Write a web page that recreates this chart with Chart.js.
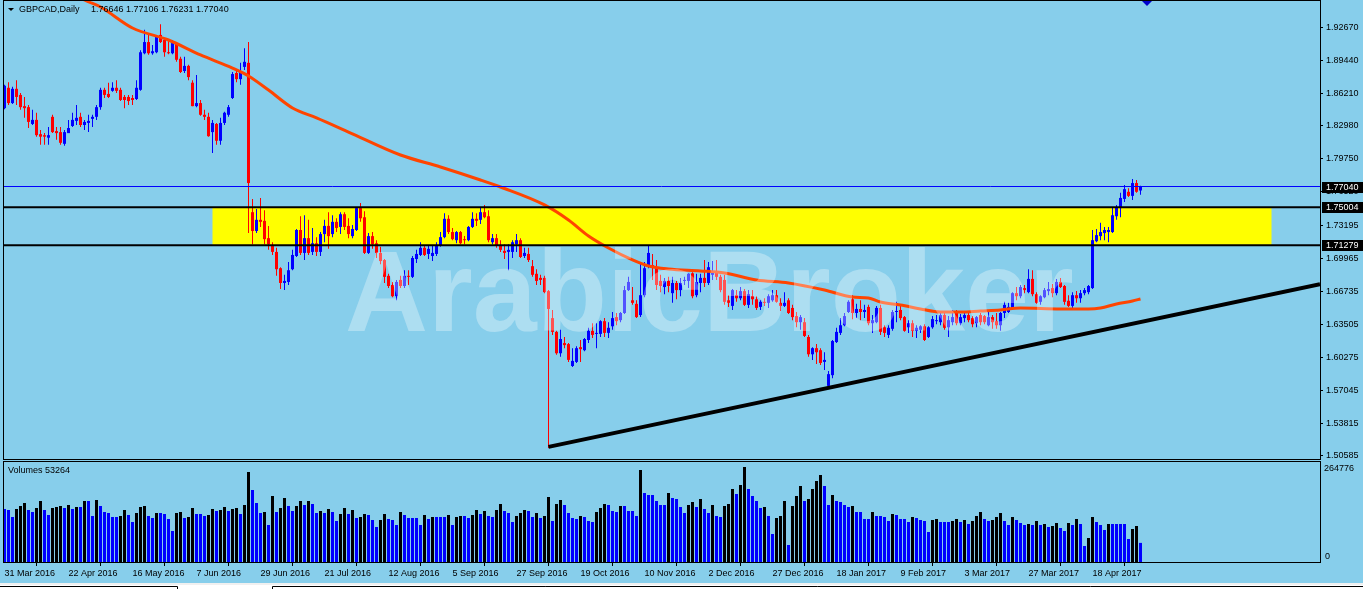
<!DOCTYPE html>
<html>
<head>
  <title>GBPCAD Daily</title>
  <script src="https://cdn.jsdelivr.net/npm/chart.js"></script>
  <style>
    body { margin: 0; background: #87CEEB; overflow: hidden; }
    #wrap { position: relative; width: 1363px; height: 589px; }
    #priceChart { position: absolute; left: 0; top: 0; }
    #volChart { position: absolute; left: 0; top: 460px; }
  </style>
</head>
<body>
<div id="wrap">
  <canvas id="priceChart" width="1363" height="460" style="width:1363px;height:460px"></canvas>
  <canvas id="volChart" width="1363" height="129" style="width:1363px;height:129px"></canvas>
</div>
<script>
// daily candles, GBPCAD, 31 Mar 2016 .. 28 Apr 2017
const open = [
1.8473,1.8673,1.8523,1.8663,1.8603,1.8493,1.8483,1.8318,1.8358,1.8218,
1.8208,1.8183,1.8388,1.8248,1.8238,1.8123,1.8228,1.8298,1.8348,1.8388,
1.8308,1.8328,1.8368,1.8388,1.8483,1.8653,1.8613,1.8643,1.8673,1.8653,
1.8583,1.8583,1.8573,1.8563,1.8653,1.9012,1.9122,1.9012,1.9022,1.9192,
1.9142,1.9022,1.9012,1.9112,1.8958,1.8838,1.8888,1.8723,1.8493,1.8523,
1.8408,1.8388,1.8238,1.8318,1.8153,1.8328,1.8408,1.8573,1.8818,1.8758,
1.8878,1.8918,1.7452,1.7267,1.7377,1.7367,1.7197,1.7122,1.7062,1.6902,
1.6757,1.6767,1.6892,1.7022,1.7277,1.7052,1.7197,1.7062,1.7147,1.7062,
1.7237,1.7317,1.7237,1.7357,1.7307,1.7432,1.7317,1.7217,1.7277,1.7492,
1.7402,1.7052,1.7217,1.7147,1.7052,1.6982,1.6827,1.6737,1.6627,1.6787,
1.6727,1.6827,1.6817,1.6992,1.7032,1.7102,1.7042,1.7022,1.7042,1.7127,
1.7207,1.7387,1.7257,1.7177,1.7257,1.7187,1.7177,1.7307,1.7387,1.7377,
1.7452,1.7412,1.7157,1.7197,1.7127,1.7072,1.7062,1.7062,1.7137,1.7177,
1.7022,1.7042,1.6922,1.6847,1.6807,1.6807,1.6677,1.6412,1.6277,1.6067,
1.6167,1.6157,1.5942,1.5982,1.6127,1.6097,1.6197,1.6287,1.6257,1.6257,
1.6382,1.6267,1.6332,1.6422,1.6392,1.6462,1.6687,1.6587,1.6552,1.6442,
1.6637,1.6932,1.6932,1.6912,1.6777,1.6717,1.6777,1.6657,1.6757,1.6687,
1.6777,1.6777,1.6852,1.6637,1.6757,1.6807,1.6757,1.6837,1.6862,1.6817,
1.6787,1.6587,1.6532,1.6637,1.6607,1.6677,1.6542,1.6627,1.6597,1.6522,
1.6572,1.6562,1.6587,1.6637,1.6562,1.6532,1.6587,1.6512,1.6432,1.6372,
1.6372,1.6227,1.6057,1.6117,1.6097,1.5982,1.5747,1.5852,1.6177,1.6267,
1.6342,1.6472,1.6597,1.6462,1.6502,1.6472,1.6522,1.6362,1.6372,1.6512,
1.6322,1.6247,1.6307,1.6472,1.6492,1.6422,1.6322,1.6362,1.6287,1.6297,
1.6332,1.6227,1.6322,1.6382,1.6372,1.6442,1.6322,1.6372,1.6472,1.6362,
1.6412,1.6442,1.6412,1.6362,1.6442,1.6432,1.6342,1.6422,1.6382,1.6342,
1.6462,1.6472,1.6512,1.6657,1.6627,1.6707,1.6667,1.6797,1.6647,1.6572,
1.6617,1.6677,1.6707,1.6657,1.6767,1.6727,1.6582,1.6532,1.6637,1.6607,
1.6657,1.6667,1.6707,1.7167,1.7217,1.7247,1.7257,1.7257,1.7412,1.7492,
1.7582,1.7652,1.7612,1.7738,1.76646
];
const high = [
1.8703,1.8728,1.8683,1.8748,1.8623,1.8583,1.8503,1.8458,1.8428,1.8258,
1.8228,1.8288,1.8408,1.8288,1.8288,1.8258,1.8358,1.8428,1.8503,1.8428,
1.8358,1.8408,1.8408,1.8503,1.8673,1.8673,1.8723,1.8728,1.8748,1.8673,
1.8603,1.8603,1.8603,1.8748,1.9042,1.9242,1.9192,1.9092,1.9192,1.9297,
1.9162,1.9142,1.9142,1.9122,1.8978,1.8978,1.8898,1.8748,1.8798,1.8553,
1.8458,1.8428,1.8358,1.8328,1.8378,1.8438,1.8503,1.8828,1.8848,1.8918,
1.9062,1.9122,1.7582,1.7482,1.7592,1.7472,1.7317,1.7157,1.7102,1.6912,
1.6837,1.6962,1.7082,1.7287,1.7412,1.7422,1.7377,1.7297,1.7207,1.7257,
1.7377,1.7452,1.7422,1.7392,1.7452,1.7452,1.7392,1.7327,1.7502,1.7542,
1.7462,1.7247,1.7257,1.7177,1.7112,1.6992,1.6847,1.6767,1.6787,1.6827,
1.6882,1.6882,1.7022,1.7082,1.7157,1.7127,1.7127,1.7127,1.7157,1.7257,
1.7442,1.7422,1.7297,1.7267,1.7267,1.7217,1.7317,1.7452,1.7442,1.7492,
1.7522,1.7472,1.7237,1.7237,1.7177,1.7137,1.7137,1.7177,1.7237,1.7197,
1.7102,1.7102,1.6982,1.6892,1.6837,1.6827,1.6687,1.6492,1.6287,1.6297,
1.6227,1.6167,1.6117,1.6137,1.6197,1.6217,1.6317,1.6362,1.6362,1.6392,
1.6412,1.6372,1.6472,1.6462,1.6472,1.6727,1.6817,1.6717,1.6587,1.6962,
1.6962,1.7122,1.7042,1.6982,1.6837,1.6807,1.6817,1.6817,1.6777,1.6807,
1.6817,1.6852,1.6862,1.6847,1.6847,1.6982,1.6962,1.6972,1.6982,1.6837,
1.6837,1.6637,1.6697,1.6687,1.6717,1.6697,1.6687,1.6687,1.6627,1.6587,
1.6607,1.6647,1.6687,1.6687,1.6607,1.6667,1.6607,1.6542,1.6472,1.6442,
1.6412,1.6247,1.6127,1.6157,1.6117,1.6077,1.5892,1.6197,1.6317,1.6412,
1.6462,1.6587,1.6637,1.6552,1.6587,1.6542,1.6542,1.6442,1.6532,1.6542,
1.6342,1.6342,1.6492,1.6572,1.6542,1.6432,1.6392,1.6392,1.6342,1.6342,
1.6352,1.6332,1.6432,1.6442,1.6472,1.6462,1.6432,1.6492,1.6492,1.6452,
1.6472,1.6462,1.6432,1.6432,1.6462,1.6442,1.6472,1.6442,1.6462,1.6472,
1.6572,1.6562,1.6667,1.6717,1.6737,1.6737,1.6892,1.6882,1.6667,1.6637,
1.6707,1.6767,1.6747,1.6797,1.6807,1.6737,1.6637,1.6667,1.6677,1.6687,
1.6707,1.6737,1.7277,1.7287,1.7347,1.7307,1.7307,1.7502,1.7522,1.7642,
1.7718,1.7688,1.7778,1.7768,1.77106
];
const low = [
1.8463,1.8503,1.8513,1.8503,1.8458,1.8378,1.8278,1.8308,1.8193,1.8113,
1.8113,1.8113,1.8228,1.8163,1.8113,1.8103,1.8228,1.8288,1.8308,1.8288,
1.8258,1.8238,1.8288,1.8358,1.8458,1.8573,1.8573,1.8633,1.8623,1.8543,
1.8473,1.8503,1.8503,1.8553,1.8643,1.9002,1.8998,1.8998,1.9012,1.9112,
1.8978,1.9002,1.9002,1.8928,1.8818,1.8818,1.8748,1.8493,1.8483,1.8398,
1.8358,1.8193,1.8033,1.8113,1.8113,1.8308,1.8388,1.8563,1.8728,1.8703,
1.8848,1.7247,1.7137,1.7247,1.7307,1.7137,1.7082,1.7032,1.6827,1.6697,
1.6687,1.6737,1.6882,1.7012,1.7032,1.6982,1.7032,1.7032,1.7022,1.7022,
1.7157,1.7092,1.7207,1.7257,1.7237,1.7277,1.7197,1.7197,1.7267,1.7357,
1.7042,1.7042,1.7092,1.7002,1.6942,1.6757,1.6707,1.6617,1.6587,1.6707,
1.6707,1.6737,1.6807,1.6952,1.7022,1.7022,1.6992,1.6972,1.7022,1.7112,
1.7197,1.7237,1.7177,1.7147,1.7137,1.7137,1.7167,1.7297,1.7317,1.7337,
1.7392,1.7157,1.7137,1.7102,1.7062,1.6992,1.6882,1.7002,1.7062,1.7002,
1.7002,1.6962,1.6817,1.6737,1.6737,1.6657,1.5137,1.6247,1.6052,1.6032,
1.6117,1.5982,1.5932,1.5972,1.5982,1.6087,1.6167,1.6217,1.6117,1.6227,
1.6227,1.6217,1.6297,1.6342,1.6372,1.6452,1.6677,1.6542,1.6412,1.6422,
1.6617,1.6902,1.6787,1.6687,1.6667,1.6647,1.6667,1.6562,1.6597,1.6627,
1.6737,1.6707,1.6607,1.6617,1.6667,1.6717,1.6737,1.6787,1.6787,1.6667,
1.6542,1.6522,1.6492,1.6572,1.6587,1.6532,1.6512,1.6542,1.6492,1.6492,
1.6532,1.6512,1.6572,1.6562,1.6482,1.6522,1.6452,1.6392,1.6322,1.6297,
1.6227,1.6032,1.6002,1.5962,1.5952,1.5902,1.5737,1.5822,1.6167,1.6247,
1.6332,1.6462,1.6402,1.6412,1.6392,1.6412,1.6342,1.6267,1.6362,1.6247,
1.6227,1.6217,1.6287,1.6372,1.6392,1.6277,1.6267,1.6227,1.6217,1.6267,
1.6187,1.6217,1.6307,1.6352,1.6342,1.6297,1.6227,1.6342,1.6342,1.6342,
1.6372,1.6372,1.6322,1.6322,1.6342,1.6352,1.6332,1.6307,1.6307,1.6287,
1.6412,1.6462,1.6492,1.6587,1.6607,1.6657,1.6657,1.6627,1.6552,1.6542,
1.6607,1.6637,1.6617,1.6637,1.6707,1.6542,1.6522,1.6512,1.6562,1.6562,
1.6637,1.6647,1.6697,1.7157,1.7177,1.7177,1.7157,1.7247,1.7377,1.7402,
1.7552,1.7602,1.7572,1.7642,1.76231
];
const close = [
1.8693,1.8523,1.8663,1.8583,1.8483,1.8473,1.8338,1.8358,1.8208,1.8193,
1.8193,1.8208,1.8238,1.8228,1.8133,1.8238,1.8278,1.8358,1.8378,1.8308,
1.8338,1.8348,1.8388,1.8483,1.8653,1.8603,1.8583,1.8673,1.8643,1.8553,
1.8553,1.8543,1.8553,1.8673,1.9022,1.9122,1.9012,1.9032,1.9172,1.9122,
1.9022,1.9012,1.9112,1.8948,1.8828,1.8888,1.8778,1.8493,1.8523,1.8408,
1.8388,1.8198,1.8328,1.8153,1.8328,1.8428,1.8483,1.8808,1.8758,1.8828,
1.8928,1.7738,1.7267,1.7377,1.7357,1.7187,1.7137,1.7062,1.6892,1.6757,
1.6777,1.6882,1.7032,1.7277,1.7052,1.7197,1.7052,1.7147,1.7062,1.7237,
1.7317,1.7217,1.7357,1.7297,1.7432,1.7307,1.7237,1.7287,1.7492,1.7392,
1.7052,1.7217,1.7137,1.7052,1.6972,1.6817,1.6727,1.6627,1.6767,1.6727,
1.6827,1.6817,1.7002,1.7042,1.7102,1.7032,1.7092,1.7052,1.7127,1.7207,
1.7387,1.7257,1.7187,1.7257,1.7147,1.7177,1.7307,1.7387,1.7367,1.7452,
1.7402,1.7177,1.7197,1.7122,1.7082,1.7052,1.7082,1.7157,1.7177,1.7012,
1.7052,1.6982,1.6837,1.6777,1.6787,1.6667,1.6502,1.6277,1.6067,1.6207,
1.6147,1.6002,1.5992,1.6117,1.6107,1.6207,1.6287,1.6247,1.6267,1.6382,
1.6267,1.6317,1.6412,1.6382,1.6462,1.6687,1.6767,1.6562,1.6422,1.6637,
1.6902,1.7052,1.6912,1.6737,1.6727,1.6777,1.6727,1.6757,1.6687,1.6757,
1.6787,1.6847,1.6627,1.6767,1.6807,1.6757,1.6912,1.6862,1.6817,1.6687,
1.6572,1.6562,1.6687,1.6607,1.6677,1.6542,1.6647,1.6597,1.6512,1.6572,
1.6562,1.6627,1.6637,1.6572,1.6532,1.6562,1.6462,1.6422,1.6372,1.6422,
1.6237,1.6057,1.6117,1.6077,1.5972,1.6002,1.5862,1.6187,1.6277,1.6342,
1.6432,1.6572,1.6462,1.6502,1.6472,1.6492,1.6362,1.6392,1.6512,1.6277,
1.6267,1.6317,1.6472,1.6482,1.6412,1.6287,1.6362,1.6287,1.6317,1.6332,
1.6197,1.6322,1.6402,1.6392,1.6442,1.6317,1.6392,1.6422,1.6362,1.6422,
1.6442,1.6392,1.6352,1.6422,1.6372,1.6372,1.6422,1.6372,1.6342,1.6462,
1.6542,1.6522,1.6657,1.6627,1.6717,1.6687,1.6797,1.6647,1.6562,1.6627,
1.6687,1.6697,1.6657,1.6767,1.6717,1.6572,1.6532,1.6637,1.6607,1.6657,
1.6687,1.6727,1.7177,1.7227,1.7257,1.7277,1.7277,1.7422,1.7502,1.7592,
1.7678,1.7612,1.7738,1.7652,1.77040
];
const volume = [
147700,144900,125400,147700,156100,164400,144900,139400,150500,170000,
144900,131000,150500,153300,156100,150500,158900,147700,153300,153300,
170000,170000,128200,172800,156100,139400,136600,125400,125400,128200,
144900,131000,111500,136600,153300,156100,128200,122600,136600,136600,
133800,119800,86400,136600,139400,122600,125400,150500,133800,133800,
128200,131000,147700,142100,144900,153300,142100,147700,150500,133800,
158900,250800,200700,164400,136600,139400,103100,183900,139400,150500,
178400,156100,142100,156100,170000,158900,170000,161600,136600,142100,
136600,147700,139400,114300,133800,150500,133800,144900,122600,125400,
133800,131000,117100,97500,117100,133800,119800,117100,103100,139400,
131000,122600,122600,122600,103100,131000,119800,125400,125400,125400,
125400,131000,103100,125400,128200,128200,122600,131000,144900,133800,
142100,128200,125400,144900,161600,142100,136600,111500,128200,136600,
144900,142100,125400,136600,122600,128200,181200,114300,161600,172800,
158900,136600,122600,119800,128200,125400,114300,111500,139400,150500,
161600,158900,142100,139400,156100,156100,142100,142100,128200,256400,
192300,186700,186700,170000,158900,158900,192300,178400,175600,153300,
136600,158900,167200,153300,175600,147700,136600,158900,128200,125400,
156100,161600,203500,189500,214600,264776,203500,183900,170000,150500,
153300,128200,78000,122600,128200,170000,47400,156100,183900,211800,
170000,175600,203500,225700,242500,211800,158900,186700,170000,167200,
158900,153300,156100,139400,139400,119800,119800,139400,128200,128200,
125400,114300,133800,131000,119800,119800,111500,125400,122600,117100,
114300,83600,117100,119800,111500,111500,111500,114300,119800,111500,
117100,105900,114300,128200,139400,119800,114300,117100,125400,136600,
114300,103100,125400,117100,108700,103100,105900,103100,114300,103100,
105900,97500,100300,108700,94800,86400,108700,103100,119800,105900,
44600,66900,125400,111500,103100,89200,105900,105900,105900,105900,
105900,64100,92000,100300,53264
];

// moving average, read at a few bars
const maBar = [0,20,24,32,41,49,57,61,66,72,78,86,99,109,119,124,135,141,146,151,157,161,166,174,
  180,188,196,205,212,216,219,224,229,234,239,244,249,254,264,271,274,278,282,284];
const maValue = [1.9995,1.9535,1.9466,1.9260,1.9142,1.8995,1.8867,1.8789,1.8651,1.8475,1.8377,1.8239,
  1.8013,1.7896,1.7768,1.7699,1.7523,1.7375,1.7218,1.7100,1.6983,1.6924,1.6894,1.6875,
  1.6855,1.6786,1.6757,1.6688,1.6619,1.6610,1.6570,1.6541,1.6502,1.6472,1.6472,1.6482,
  1.6492,1.6511,1.6502,1.6502,1.6511,1.6551,1.6580,1.6600];

const dateLabels = ["31 Mar 2016","22 Apr 2016","16 May 2016","7 Jun 2016","29 Jun 2016","21 Jul 2016",
  "12 Aug 2016","5 Sep 2016","27 Sep 2016","19 Oct 2016","10 Nov 2016","2 Dec 2016","27 Dec 2016",
  "18 Jan 2017","9 Feb 2017","3 Mar 2017","27 Mar 2017","18 Apr 2017"];
const priceTicks = [1.92670,1.89440,1.86210,1.82980,1.79750,1.76520,1.73195,1.69965,1.66735,
  1.63505,1.60275,1.57045,1.53815,1.50585];

const bidLevel = 1.77040;
const zoneHigh = 1.75004;
const zoneLow = 1.71279;
const zoneBars = [52, 316.75];
const trendBars = [136, 328.875];
const trendValues = [1.5148, 1.6744];

const xMin = -0.375, xMax = 328.875;

Chart.defaults.font.family = '"Liberation Sans", Arial, sans-serif';
Chart.defaults.font.size = 9;
Chart.defaults.color = '#000';

const idx = open.map((_, i) => i);
const candleColors = idx.map(i => close[i] >= open[i] ? '#0000FF' : '#FF0000');
const volColors = volume.map((v, i) => (i > 0 && v > volume[i - 1]) ? '#000000' : '#0000FF');

function flatLine(v, color, width) {
  return {
    type: 'line', data: [{ x: xMin, y: v }, { x: xMax, y: v }],
    borderColor: color, borderWidth: width, pointRadius: 0, order: 0
  };
}

const framePlugin = {
  id: 'frame',
  afterDraw(chart) {
    const { ctx, chartArea: a } = chart;
    ctx.save();
    ctx.strokeStyle = '#000';
    ctx.lineWidth = 1;
    ctx.strokeRect(a.left + 0.5, a.top - 0.5, a.right - a.left, a.bottom - a.top + 1);
    ctx.restore();
  }
};

const pricePlugin = {
  id: 'priceExtras',
  beforeDatasetsDraw(chart) {
    const { ctx, scales: { x, y } } = chart;
    ctx.save();
    ctx.fillStyle = '#FFFF00';
    const x0 = x.getPixelForValue(zoneBars[0]), x1 = x.getPixelForValue(zoneBars[1]);
    const y0 = y.getPixelForValue(zoneHigh), y1 = y.getPixelForValue(zoneLow);
    ctx.fillRect(x0, y0, x1 - x0, y1 - y0);
    ctx.restore();
  },
  afterDatasetsDraw(chart) {
    const { ctx, chartArea: a } = chart;
    ctx.save();
    ctx.beginPath();
    ctx.rect(a.left, a.top, a.right - a.left, a.bottom - a.top);
    ctx.clip();
    ctx.font = 'bold 115px "Liberation Sans", Arial, sans-serif';
    ctx.fillStyle = 'rgba(255,255,255,0.32)';
    ctx.textBaseline = 'alphabetic';
    ctx.fillText('ArabicBroker', 345, 331);
    ctx.restore();
  },
  afterDraw(chart) {
    const { ctx, scales: { y } } = chart;
    ctx.save();
    // header
    ctx.fillStyle = '#000';
    ctx.beginPath();
    ctx.moveTo(8, 8); ctx.lineTo(14, 8); ctx.lineTo(11, 11); ctx.closePath();
    ctx.fill();
    ctx.font = '9px "Liberation Sans", Arial, sans-serif';
    ctx.textBaseline = 'middle';
    ctx.fillText('GBPCAD,Daily', 19, 10);
    const n = open.length - 1;
    ctx.fillText([open[n], high[n], low[n], close[n]].map(v => v.toFixed(5)).join(' '), 91, 10);
    // shift marker
    ctx.fillStyle = '#0000CC';
    ctx.beginPath();
    ctx.moveTo(1141, 0); ctx.lineTo(1153, 0); ctx.lineTo(1147, 6); ctx.closePath();
    ctx.fill();
    // price boxes
    [bidLevel, zoneHigh, zoneLow].forEach(v => {
      const py = y.getPixelForValue(v);
      ctx.fillStyle = '#000';
      ctx.fillRect(1322, Math.round(py) - 5, 41, 11);
      ctx.fillStyle = '#fff';
      ctx.fillText(v.toFixed(5), 1326, Math.round(py) + 0.5);
    });
    ctx.restore();
  }
};

new Chart(document.getElementById('priceChart'), {
  type: 'bar',
  data: {
    datasets: [
      flatLine(bidLevel, '#0000FF', 1),
      flatLine(zoneHigh, '#000000', 2),
      flatLine(zoneLow, '#000000', 2),
      {
        type: 'line', data: trendBars.map((b, k) => ({ x: b, y: trendValues[k] })),
        borderColor: '#000', borderWidth: 4, pointRadius: 0, order: 0
      },
      {
        type: 'line', data: maBar.map((b, k) => ({ x: b, y: maValue[k] })),
        borderColor: '#FF4500', borderWidth: 3, pointRadius: 0,
        cubicInterpolationMode: 'monotone', order: 1
      },
      {
        data: idx.map(i => ({ x: i, y: [Math.min(open[i], close[i]), Math.max(open[i], close[i])] })),
        backgroundColor: candleColors, barThickness: 3, minBarLength: 1,
        grouped: false, borderWidth: 0, inflateAmount: 0, order: 2
      },
      {
        data: idx.map(i => ({ x: i, y: [low[i], high[i]] })),
        backgroundColor: candleColors, barThickness: 1,
        grouped: false, borderWidth: 0, inflateAmount: 0, order: 3
      }
    ]
  },
  options: {
    responsive: false,
    animation: false,
    layout: { padding: { left: 3, top: 1, right: 0, bottom: 1 } },
    plugins: { legend: { display: false }, tooltip: { enabled: false } },
    scales: {
      x: { type: 'linear', display: false, min: xMin, max: xMax, offset: false },
      y: {
        position: 'right', min: 1.5029, max: 1.9525,
        afterBuildTicks: s => { s.ticks = priceTicks.map(v => ({ value: v })); },
        afterFit: s => { s.width = 43; s.paddingTop = 0; s.paddingBottom = 0; },
        ticks: { callback: v => v.toFixed(5), padding: 3, autoSkip: false, color: '#000' },
        grid: { drawOnChartArea: false, tickLength: 3, color: '#000' },
        border: { display: false }
      }
    }
  },
  plugins: [pricePlugin, framePlugin]
});

const volPlugin = {
  id: 'volExtras',
  afterDraw(chart) {
    const { ctx, scales: { y } } = chart;
    ctx.save();
    ctx.font = '9px "Liberation Sans", Arial, sans-serif';
    ctx.fillStyle = '#000';
    ctx.textBaseline = 'middle';
    ctx.fillText('Volumes ' + volume[volume.length - 1], 8, 11);
    ctx.fillText('264776', 1324, y.getPixelForValue(264776) + 2);
    ctx.fillText('0', 1325, y.getPixelForValue(0) - 5);
    // terminal tab strip
    ctx.fillStyle = '#F0F0F0';
    ctx.fillRect(0, 123, 1363, 6);
    ctx.fillStyle = '#FFFFFF';
    ctx.fillRect(0, 125, 1363, 4);
    ctx.strokeStyle = '#000';
    ctx.lineWidth = 1;
    ctx.beginPath();
    ctx.moveTo(0, 126.5); ctx.lineTo(177.5, 126.5); ctx.lineTo(177.5, 129);
    ctx.moveTo(272.5, 129); ctx.lineTo(272.5, 126.5); ctx.lineTo(1363, 126.5);
    ctx.stroke();
    ctx.restore();
  }
};

new Chart(document.getElementById('volChart'), {
  type: 'bar',
  data: {
    datasets: [{
      data: idx.map(i => ({ x: i, y: volume[i] })),
      backgroundColor: volColors, barThickness: 3,
      borderWidth: 0, inflateAmount: 0
    }]
  },
  options: {
    responsive: false,
    animation: false,
    layout: { padding: { left: 3, top: 2, right: 43, bottom: 0 } },
    plugins: { legend: { display: false }, tooltip: { enabled: false } },
    scales: {
      x: {
        type: 'linear', min: xMin, max: xMax, offset: false,
        afterBuildTicks: s => { s.ticks = dateLabels.map((_, k) => ({ value: k * 16 })); },
        afterFit: s => { s.height = 27; s.paddingLeft = 0; s.paddingRight = 0; },
        ticks: {
          callback: v => dateLabels[Math.round(v / 16)],
          align: 'start', maxRotation: 0, autoSkip: false, padding: 2, color: '#000'
        },
        grid: { drawOnChartArea: false, tickLength: 4, color: '#000' },
        border: { display: false }
      },
      y: { display: false, min: 0, max: 278712 }
    }
  },
  plugins: [volPlugin, framePlugin]
});
</script>
</body>
</html>
